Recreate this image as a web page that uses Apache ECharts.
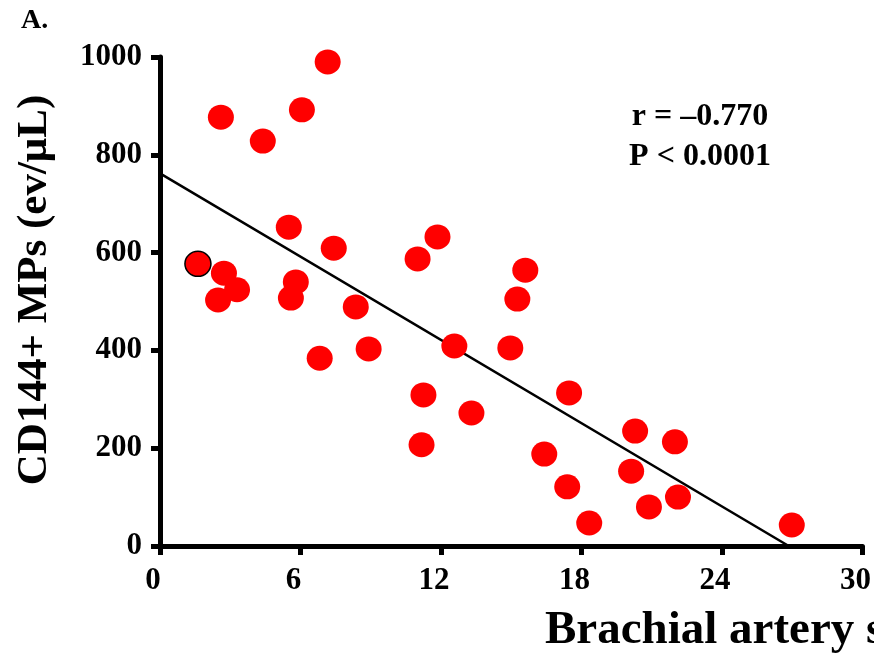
<!DOCTYPE html>
<html>
<head>
<meta charset="utf-8">
<script src="https://cdn.jsdelivr.net/npm/echarts@6/dist/echarts.min.js"></script>
<style>
  html, body { margin: 0; padding: 0; background: #fff; }
  #chart { width: 874px; height: 656px; }
</style>
</head>
<body>
<div id="chart"></div>
<script>
// Brachial artery measure (x) vs CD144+ microparticle count (y)
const brachial = [1.62, 2.60, 2.73, 2.48, 3.29, 4.39, 6.06, 7.16, 5.50, 5.80, 5.59, 7.42, 6.82, 8.36, 8.91,
  11.00, 11.85, 11.25, 11.17, 12.57, 13.30, 14.96, 15.26, 15.60, 17.47, 16.41, 17.39, 18.33, 20.29, 20.12,
  20.88, 21.99, 22.12, 26.98];
const cd144 = [577, 877, 558, 503, 524, 828, 892, 990, 652, 540, 507, 609, 384, 489, 403,
  587, 632, 309, 207, 409, 272, 405, 505, 564, 313, 188, 121, 47, 235, 153,
  80, 213, 100, 43];
// subject drawn with an outline
const outlinedIndex = 0;

// regression line end points
const fitX = [0, 26.85];
const fitY = [762, 0];

const xTicks = [0, 6, 12, 18, 24, 30];
const yTicks = [0, 200, 400, 600, 800, 1000];

const statLines = ['r = \u20130.770', 'P < 0.0001'];
const panelLabel = 'A.';
const yTitle = 'CD144+ MPs (ev/\u03bcL)';
const xTitle = 'Brachial artery stiffness';

const serif = '"Liberation Serif", "Times New Roman", serif';

const points = brachial.map((x, i) => {
  const p = { value: [x, cd144[i]] };
  if (i === outlinedIndex) {
    p.itemStyle = { borderColor: '#000', borderWidth: 1.5 };
  }
  return p;
});

const chart = echarts.init(document.getElementById('chart'), null, { renderer: 'canvas' });
chart.setOption({
  animation: false,
  backgroundColor: '#fff',
  grid: { left: 160, right: 9, top: 57, bottom: 110, containLabel: false },
  xAxis: {
    type: 'value', min: 0, max: 30, interval: 6,
    axisLine: { show: true, lineStyle: { color: '#000', width: 5 } },
    axisTick: { show: true, length: 9, lineStyle: { color: '#000', width: 5 } },
    axisLabel: {
      margin: 19, color: '#000', fontFamily: serif, fontWeight: 'bold', fontSize: 31,
      padding: [0, 14, 0, 0],
      formatter: v => xTicks.includes(v) ? String(v) : ''
    },
    splitLine: { show: false }
  },
  yAxis: {
    type: 'value', min: 0, max: 1000, interval: 200,
    axisLine: { show: true, lineStyle: { color: '#000', width: 5 } },
    axisTick: { show: true, length: 9, lineStyle: { color: '#000', width: 5 } },
    axisLabel: {
      margin: 18, color: '#000', fontFamily: serif, fontWeight: 'bold', fontSize: 31,
      padding: [8, 0, 0, 0],
      formatter: v => yTicks.includes(v) ? String(v) : ''
    },
    splitLine: { show: false }
  },
  series: [
    {
      type: 'line',
      data: fitX.map((x, i) => [x, fitY[i]]),
      symbol: 'none',
      lineStyle: { color: '#000', width: 2.5 },
      z: 3
    },
    {
      type: 'scatter',
      data: points,
      symbol: 'circle',
      symbolSize: [26, 25],
      itemStyle: { color: '#ff0000', opacity: 1 },
      z: 4
    }
  ],
  graphic: [
    {
      type: 'text', x: 21, y: 7,
      style: { text: panelLabel, font: 'bold 28px ' + serif, fill: '#000' }
    },
    {
      type: 'text', x: 700, y: 117,
      style: {
        text: statLines[0], font: 'bold 32px ' + serif, fill: '#000',
        textAlign: 'center', textVerticalAlign: 'middle'
      }
    },
    {
      type: 'text', x: 700, y: 157,
      style: {
        text: statLines[1], font: 'bold 32px ' + serif, fill: '#000',
        textAlign: 'center', textVerticalAlign: 'middle'
      }
    },
    {
      type: 'text', x: 35, y: 290, rotation: Math.PI / 2,
      style: {
        text: yTitle, font: 'bold 43px ' + serif, fill: '#000',
        textAlign: 'center', textVerticalAlign: 'middle'
      }
    },
    {
      type: 'text', x: 545, y: 631,
      style: {
        text: xTitle, font: 'bold 47px ' + serif, fill: '#000',
        textAlign: 'left', textVerticalAlign: 'middle'
      }
    }
  ]
});
</script>
</body>
</html>
